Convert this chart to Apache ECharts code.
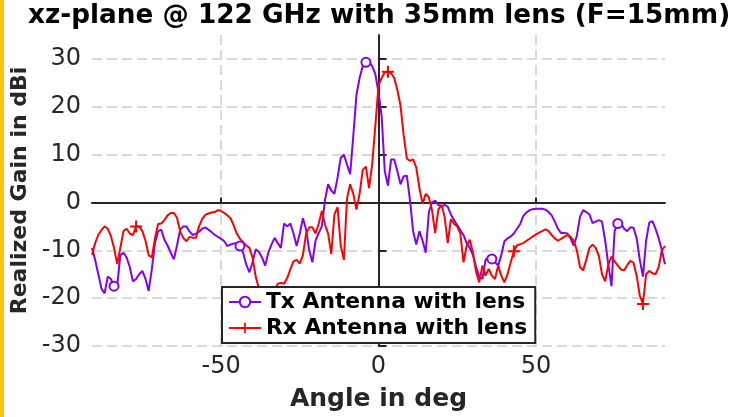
<!DOCTYPE html>
<html>
<head>
<meta charset="utf-8">
<title>xz-plane @ 122 GHz</title>
<script src="https://cdn.jsdelivr.net/npm/echarts@6/dist/echarts.min.js"></script>
<style>
  html, body { margin: 0; padding: 0; background: #fff; }
  #myChart { width: 734px; height: 417px; }
  #stripe { position: absolute; left: 0; top: 0; width: 4px; height: 417px; background: #FFC20E; }
</style>
</head>
<body>
<div id="myChart"></div>
<div id="stripe"></div>
<script>
// sampling grid of the measurement, 1 deg steps
var startAngle = -91
var endAngle = 91
var angles = []
for (var a = startAngle; a <= endAngle; a++) angles.push(a)

var seriesNames = ['Tx Antenna with lens', 'Rx Antenna with lens']

// realized gain in dBi (-91 .. 91 deg)
var txGain = [
  -9.5, -12, -15, -18, -19, -15.5, -16, -17.5, -17.5, -11,
  -10.5, -11.5, -13.5, -16.5, -16, -15, -14.3, -16, -18.5, -14,
  -8.5, -6, -5.7, -7.8, -9, -10.5, -11.9, -9, -5.7, -5,
  -5, -6.1, -6.8, -6.5, -6.1, -5.5, -5.2, -5.7, -6.2, -6.8,
  -7.2, -7.6, -8.1, -9.1, -8.8, -8.6, -8.5, -9.1, -10.5, -13,
  -14.6, -12.5, -9.8, -10.3, -11.5, -13.2, -10.5, -8.8, -7.4, -8.5,
  -9.5, -4.4, -5, -4.4, -6.5, -9.1, -6.5, -3.3, -5.7, -10,
  -12.5, -8, -6.4, -5, 0.5, 3.8, 2.5, 1.8, 5.2, 9.3,
  10, 7.9, 5.9, 14, 22.5, 26, 28.5, 29.3, 29.4, 28.5,
  26.8, 23, 18, 6.5, 3.5, 9, 9, 6.5, 3.8, 5.5,
  5.6, 0.5, -6, -8.8, -6, -8, -10.5, -2, 0, 0.4,
  -0.5, -0.9, -0.5, -0.9, -2.5, -3.7, -4.7, -5.8, -6.8, -8.5,
  -9.5, -11, -13.5, -15.5, -16, -12, -11.5, -11.8, -12.5, -13.2,
  -11, -8.1, -7.5, -7.1, -6.5, -5.5, -4.5, -2.8, -2.1, -1.6,
  -1.4, -1.3, -1.3, -1.3, -1.5, -2, -2.7, -4, -5.5, -6.4,
  -6.4, -6.5, -7.5, -9, -7, -3, -1.6, -2, -2.5, -4.3,
  -4, -3.7, -4, -8, -13, -17.5, -6, -4.4, -4.3, -5.5,
  -6, -5.2, -5.3, -7.5, -12, -15.5, -8, -4.2, -3.9, -5.5,
  -7.5, -10, -12.9
]

var rxGain = [
  -11, -8.5, -6.8, -5.8, -5, -5.5, -7, -9.5, -12.9, -9.5,
  -6, -5.5, -6.5, -6.8, -5, -5, -6, -8, -11, -11.5,
  -7.5, -4.5, -4.4, -3.7, -2.7, -2.2, -2.2, -3.2, -6.1, -7.4,
  -8.1, -7.2, -7.4, -7.4, -5, -3.5, -2.6, -2.3, -2.1, -2,
  -1.6, -1.8, -2.2, -2.7, -3.3, -4.8, -6.5, -7.6, -8.3, -9,
  -9.5, -11.5, -15.5, -18, -19.5, -20.5, -21, -20, -18.5, -17,
  -16.8, -17, -15.8, -14, -12.3, -12, -12.8, -11, -6.5, -5.2,
  -5.2, -6.5, -4.5, -1.8, -4.6, -6.5, -10.8, -2.5, -1, -9,
  -12, 0.8, 3.8, 1.8, -1.5, 1.8, 6.8, 7.5, 3, 8,
  16, 24.5, 26, 27.2, 27.3, 27, 26, 23.5, 20.2, 14,
  9.2, 8.7, 9, 7.3, 3, -0.3, 1.8, 1.1, -1.6, -6.4,
  -1.5, -0.5, -3, -8.5, -3.5, -4.5, -5, -6.5, -12.5, -9.1,
  -7.8, -10.5, -14.5, -16.7, -13.2, -15.3, -13.9, -15.3, -16, -13.2,
  -15.3, -16.7, -15, -12.5, -10.2, -9, -8.7, -8.5, -8, -7.6,
  -7.1, -6.7, -6.3, -6, -5.6, -6, -6.8, -7.5, -8, -7.6,
  -7.2, -6.8, -7.2, -8, -10, -13.5, -14.2, -12, -9.5, -8.8,
  -9.5, -11.2, -15, -16.5, -13, -11.3, -12.3, -13.2, -14, -14.2,
  -13.1, -12.2, -12.6, -15.3, -19.5, -21.2, -15, -14.3, -14.8, -15,
  -13.5, -10, -9.1
]

// angles where the markers sit
var txMarkerAt = [-84, -44, -4, 36, 76]
var rxMarkerAt = [-77, -37, 3, 43, 84]

var xTicks = [-50, 0, 50]
var yTicks = [-30, -20, -10, 0, 10, 20, 30]

function buildData (gains, markers) {
  return angles.map(function (ang, i) {
    if (markers.indexOf(ang) >= 0) return [ang, gains[i]]
    return { value: [ang, gains[i]], symbol: 'none' }
  })
}

var myChart = echarts.init(document.getElementById('myChart'))
var axisColor = '#262626'
var gridStyle = { type: [10, 5], color: '#d9d9d9', width: 2 }
var font = 'DejaVu Sans'

var option = {
  animation: false,
  backgroundColor: '#fff',
  title: {
    text: 'xz-plane @ 122 GHz with 35mm lens (F=15mm)',
    left: 28,
    top: 3,
    padding: 0,
    textStyle: { fontFamily: font, fontWeight: 'bold', fontSize: 26.3, color: '#000' }
  },
  grid: { left: 92, right: 69, top: 35, bottom: 65 },
  xAxis: {
    type: 'value',
    min: startAngle,
    max: endAngle,
    name: 'Angle in deg',
    nameLocation: 'middle',
    nameGap: 41,
    nameTextStyle: { fontFamily: font, fontWeight: 'bold', fontSize: 25, color: axisColor },
    axisLine: { lineStyle: { color: axisColor, width: 2 } },
    axisTick: { inside: true, length: 5, customValues: xTicks, lineStyle: { color: axisColor, width: 2 } },
    axisLabel: { customValues: xTicks, margin: 9, fontFamily: font, fontSize: 24, color: axisColor },
    splitLine: { show: true, lineStyle: gridStyle }
  },
  yAxis: {
    type: 'value',
    min: -30,
    max: 35,
    name: 'Realized Gain in dBi',
    nameLocation: 'middle',
    nameGap: 58,
    nameTextStyle: { fontFamily: font, fontWeight: 'bold', fontSize: 22, color: axisColor },
    axisLine: { show: true, lineStyle: { color: axisColor, width: 2 } },
    axisTick: { show: true, inside: true, length: 8, customValues: yTicks, lineStyle: { color: axisColor, width: 2 } },
    axisLabel: { customValues: yTicks, margin: 11, fontFamily: font, fontSize: 24, color: axisColor },
    splitLine: { show: true, lineStyle: gridStyle }
  },
  legend: {
    orient: 'vertical',
    left: 222,
    top: 287,
    backgroundColor: '#fff',
    borderColor: axisColor,
    borderWidth: 2,
    padding: [4, 8, 4, 6],
    itemGap: 4,
    itemWidth: 32,
    itemHeight: 13,
    textStyle: { fontFamily: font, fontWeight: 'bold', fontSize: 21.8, lineHeight: 22, color: '#000' },
    data: seriesNames
  },
  series: [
    {
      name: seriesNames[0],
      type: 'line',
      symbol: 'emptyCircle',
      symbolSize: 9,
      lineStyle: { color: '#7F00FF', width: 2 },
      itemStyle: { color: '#7F00FF', borderWidth: 2 },
      data: buildData(txGain, txMarkerAt)
    },
    {
      name: seriesNames[1],
      type: 'line',
      symbol: 'path://M5 0H7V12H5ZM0 5H12V7H0Z',
      symbolSize: 12,
      lineStyle: { color: '#FF0000', width: 2 },
      itemStyle: { color: '#FF0000' },
      data: buildData(rxGain, rxMarkerAt)
    }
  ]
}

myChart.setOption(option, true)
</script>
</body>
</html>
